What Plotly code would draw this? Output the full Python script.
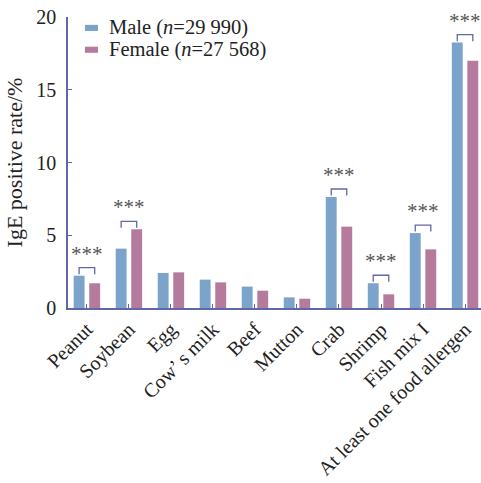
import plotly.graph_objects as go

categories = ["Peanut", "Soybean", "Egg", "Cow\u2019 s milk", "Beef", "Mutton",
              "Crab", "Shrimp", "Fish mix I", "At least one food allergen"]
male = [2.22, 4.08, 2.41, 1.95, 1.47, 0.73, 7.63, 1.70, 5.15, 18.24]
female = [1.70, 5.41, 2.45, 1.76, 1.19, 0.64, 5.59, 0.94, 4.03, 17.00]
significance = ["***", "***", "", "", "", "", "***", "***", "***", "***"]
series_names = ["Male (<i>n</i>=29 990)", "Female (<i>n</i>=27 568)"]

MALE_COLOR = "#7ca3c9"
FEMALE_COLOR = "#b57b9c"
AXIS_COLOR = "#6168a6"
FONT = "Liberation Serif"

xs = list(range(len(categories)))
fig = go.Figure()
fig.add_trace(go.Bar(x=xs, y=male, name=series_names[0],
                     marker=dict(color=MALE_COLOR, line=dict(width=0))))
fig.add_trace(go.Bar(x=xs, y=female, name=series_names[1],
                     marker=dict(color=FEMALE_COLOR, line=dict(width=0))))

# significance brackets between paired bars
half = 0.185
for i, (m, f, s) in enumerate(zip(male, female, significance)):
    if not s:
        continue
    top = max(m, f) + 0.55
    fig.add_shape(type="path", xref="x", yref="y",
                  path=f"M {i-half},{top-0.45} L {i-half},{top} L {i+half},{top} L {i+half},{top-0.45}",
                  line=dict(color=AXIS_COLOR, width=1.3))
    fig.add_annotation(x=i, y=top + 0.0, text=s, showarrow=False, xref="x", yref="y",
                       yanchor="bottom", font=dict(family=FONT, size=21, color="#555555"))

# legend drawn as flat swatches with labels
legend_rows = [(0.963, MALE_COLOR), (0.888, FEMALE_COLOR)]
for (yc, color), label in zip(legend_rows, series_names):
    fig.add_shape(type="rect", xref="paper", yref="paper",
                  x0=0.041, x1=0.0726, y0=yc - 0.011, y1=yc + 0.010,
                  fillcolor=color, line=dict(width=0))
    fig.add_annotation(x=0.0944, y=yc, xref="paper", yref="paper", text=label,
                       showarrow=False, xanchor="left", yanchor="middle",
                       font=dict(family=FONT, size=20.5, color="#222222"))

fig.update_layout(
    width=481, height=483,
    margin=dict(l=68, r=0, t=17, b=175),
    paper_bgcolor="white", plot_bgcolor="white",
    barmode="group", bargap=0.26, bargroupgap=0.3,
    font=dict(family=FONT, size=20, color="#222222"),
    showlegend=False,
)
fig.update_xaxes(
    range=[-0.45, 9.38], tickmode="array", tickvals=xs, ticktext=categories,
    tickangle=-45, showline=True, linecolor=AXIS_COLOR, linewidth=1.5,
    ticks="inside", ticklen=4, tickcolor=AXIS_COLOR, showgrid=False, zeroline=False,
    tickfont=dict(size=20), automargin=False,
)
fig.update_yaxes(
    range=[0, 20], tickvals=[0, 5, 10, 15, 20], showline=True, linecolor=AXIS_COLOR,
    linewidth=1.5, ticks="inside", ticklen=4, tickcolor=AXIS_COLOR, showgrid=False,
    zeroline=False, title=dict(text="IgE positive rate/%", standoff=8, font=dict(size=22)),
    ticklabelstandoff=6, tickfont=dict(size=20), automargin=False,
)

fig.write_html("out.html")
